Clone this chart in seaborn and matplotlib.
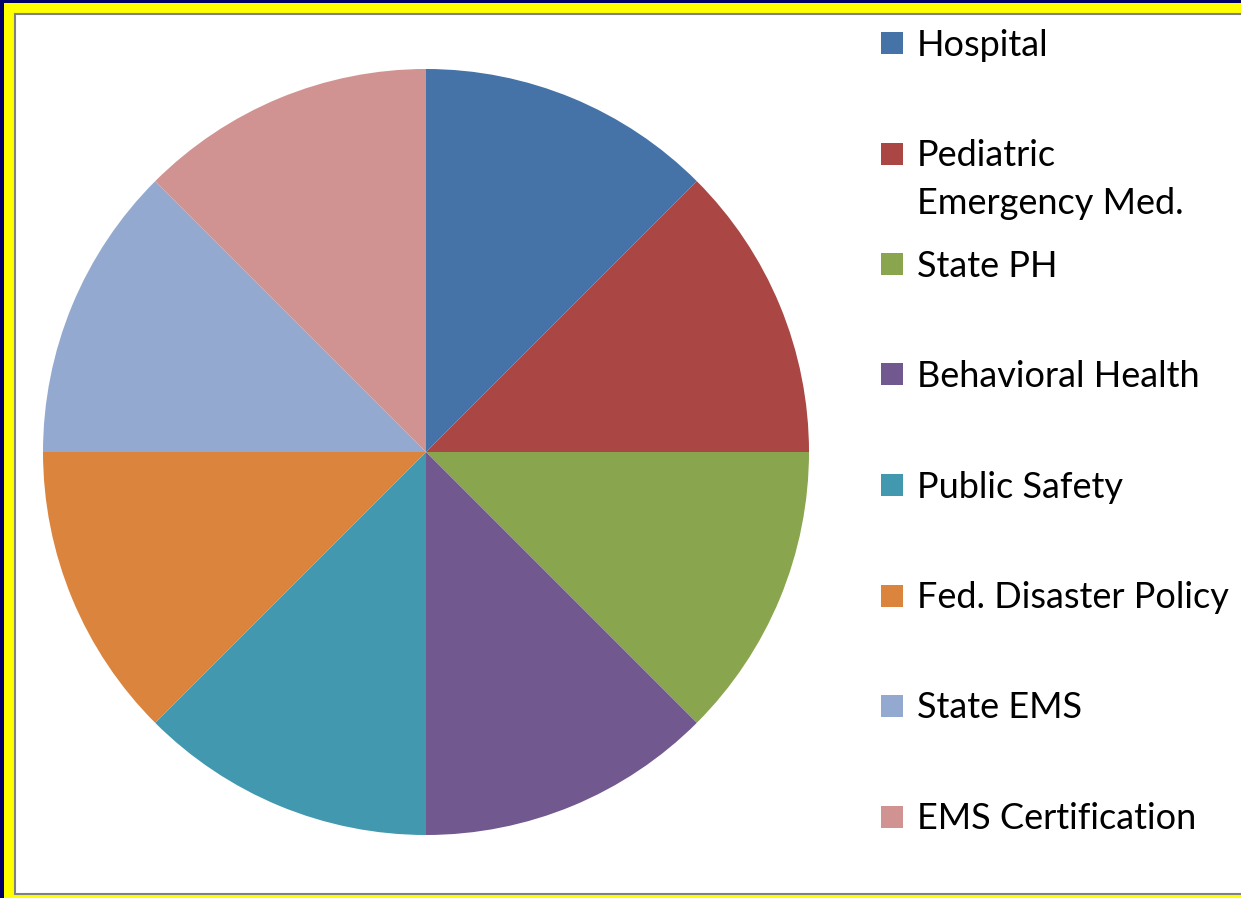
import matplotlib.pyplot as plt
import seaborn as sns
from matplotlib.patches import Rectangle

# Data: eight equal shares
categories = [
    "Hospital",
    "Pediatric\nEmergency Med.",
    "State PH",
    "Behavioral Health",
    "Public Safety",
    "Fed. Disaster Policy",
    "State EMS",
    "EMS Certification",
]
shares = [1, 1, 1, 1, 1, 1, 1, 1]
slice_colors = ["#4572A7", "#AA4643", "#89A54E", "#71588F",
                "#4198AF", "#DB843D", "#93A9CF", "#D19392"]

sns.set_theme(style="white")
plt.rcParams['font.family'] = ['Lato', 'DejaVu Sans']

W, H = 1241, 898
fig = plt.figure(figsize=(W / 100, H / 100), dpi=100)
fig.patch.set_facecolor("#000066")


def box(x0, y0, x1, y1):
    # pixel box (top-left origin) -> figure fraction rect
    return (x0 / W, 1 - y1 / H), (x1 - x0) / W, (y1 - y0) / H


# yellow frame and grey-edged white panel (behind the axes)
xy, w, h = box(4, 3, W + 5, 898)
fig.add_artist(Rectangle(xy, w, h, transform=fig.transFigure, zorder=-3,
                         facecolor="#FFFF00", edgecolor="none"))
xy, w, h = box(15, 14, W + 10, 894)
fig.add_artist(Rectangle(xy, w, h, transform=fig.transFigure, zorder=-2,
                         facecolor="white", edgecolor="#808080", linewidth=1.5))

# pie
cx, cy, r = 426, 452, 383
ax = fig.add_axes([(cx - r) / W, 1 - (cy + r) / H, 2 * r / W, 2 * r / H])
ax.patch.set_alpha(0)
palette = sns.color_palette(slice_colors)
ax.pie(shares, colors=palette, startangle=90, counterclock=False,
       wedgeprops=dict(linewidth=0))
ax.set_xlim(-1, 1)
ax.set_ylim(-1, 1)
ax.set_axis_off()

# legend drawn by hand so the marker sits on the first line
lx, ly0, step = 881, 43, 110.5
for i, (label, col) in enumerate(zip(categories, palette)):
    y = ly0 + i * step
    xy, w, h = box(lx, y - 11, lx + 22, y + 11)
    fig.add_artist(Rectangle(xy, w, h, transform=fig.transFigure,
                             facecolor=col, edgecolor="none"))
    for k, line in enumerate(label.split("\n")):
        fig.text(917 / W, 1 - (y + 2 + k * 48) / H, line, fontsize=26,
                 color="black", va="center", ha="left")

fig.savefig("out.png", dpi=100, facecolor=fig.get_facecolor())
